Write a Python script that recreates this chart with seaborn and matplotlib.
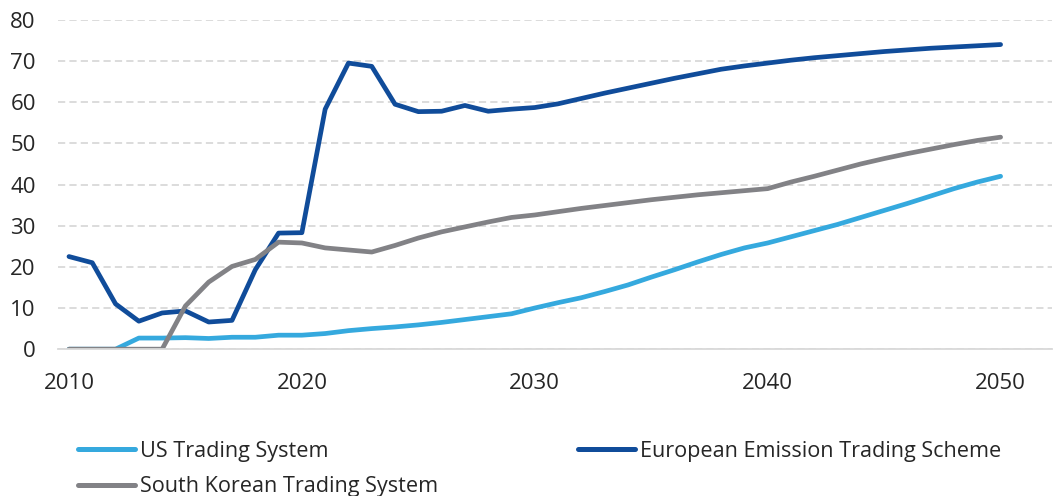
"""
Ceny uprawnień do emisji - trzy systemy handlu.
"""

import matplotlib.pyplot as plt
import pandas as pd
import seaborn as sns

years = list(range(2010, 2051))

us_trading = [0, 0, 0, 2.7, 2.7, 2.8, 2.6, 2.9, 2.9, 3.4,
              3.4, 3.8, 4.5, 5.0, 5.4, 5.9, 6.5, 7.2, 7.9, 8.6,
              10.0, 11.3, 12.5, 14.0, 15.6, 17.5, 19.3, 21.2, 23.0, 24.6,
              25.8, 27.3, 28.8, 30.3, 32.0, 33.7, 35.4, 37.2, 39.0, 40.6,
              42.0]

eu_ets = [22.5, 21.0, 11.0, 6.8, 8.8, 9.3, 6.6, 7.0, 19.3, 28.2,
          28.3, 58.3, 69.5, 68.7, 59.5, 57.7, 57.8, 59.2, 57.8, 58.3,
          58.7, 59.6, 60.9, 62.2, 63.4, 64.6, 65.8, 66.9, 68.0, 68.8,
          69.5, 70.2, 70.8, 71.3, 71.8, 72.3, 72.7, 73.1, 73.4, 73.7,
          74.0]

korea_trading = [0, 0, 0, 0, 0, 10.5, 16.3, 20.1, 21.8, 26.0,
                 25.8, 24.6, 24.1, 23.6, 25.2, 27.0, 28.5, 29.7, 30.9, 32.0,
                 32.6, 33.4, 34.2, 34.9, 35.6, 36.3, 36.9, 37.5, 38.0, 38.5,
                 39.0, 40.6, 42.0, 43.5, 45.0, 46.3, 47.5, 48.6, 49.7, 50.7,
                 51.5]

series_names = ["US Trading System", "European Emission Trading Scheme", "South Korean Trading System"]
colors = ["#35a9de", "#104c9a", "#828286"]

df = pd.DataFrame({
    "Year": years * 3,
    "Price": us_trading + eu_ets + korea_trading,
    "Series": [series_names[0]] * len(years) + [series_names[1]] * len(years) + [series_names[2]] * len(years),
})

sns.set_style("white")
plt.rcParams["font.family"] = ["Open Sans", "DejaVu Sans"]

fig = plt.figure(figsize=(10.55, 4.96), dpi=100)
ax = fig.add_axes([0.055, 0.296, 0.942, 0.664])

sns.lineplot(data=df, x="Year", y="Price", hue="Series", hue_order=series_names,
             palette=colors, linewidth=3.4, ax=ax, legend=False)
for line in ax.lines:
    line.set_solid_capstyle("round")
    line.set_solid_joinstyle("round")

ax.set_xlim(2009.53, 2052.2)
ax.set_ylim(0, 80)
ax.set_xticks([2010, 2020, 2030, 2040, 2050])
ax.set_yticks(range(0, 81, 10))
ax.set_xlabel("")
ax.set_ylabel("")
ax.tick_params(axis="both", length=0, labelsize=16, colors="#262626")
ax.tick_params(axis="x", pad=17)
ax.tick_params(axis="y", pad=16)

ax.yaxis.grid(True, linestyle=(0, (4, 2.3)), color="#d9d9d9", linewidth=1.3)
ax.set_axisbelow(True)
for side in ["left", "right", "top"]:
    ax.spines[side].set_visible(False)
ax.spines["bottom"].set_color("#d9d9d9")
ax.spines["bottom"].set_linewidth(1.3)

# legenda: kolumny wypełniane pionowo, więc kolejność US, Korea, UE
order = [0, 2, 1]
handles = [plt.Line2D([], [], color=colors[i], linewidth=3.6, solid_capstyle="round") for i in order]
labels = [series_names[i] for i in order]
fig.legend(handles, labels, loc="upper left", bbox_to_anchor=(78 / 1055, 1 - 441 / 496),
           ncol=2, frameon=False, fontsize=15.6, handlelength=2.63, handletextpad=0.23,
           columnspacing=6.45, labelspacing=0.65, borderaxespad=0, borderpad=0,
           labelcolor="#262626")

fig.savefig("out.png", dpi=100)
